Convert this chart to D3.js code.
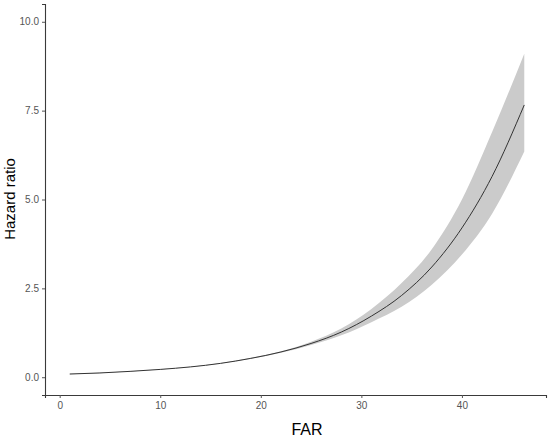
<!DOCTYPE html>
<meta charset="utf-8">
<script src="https://d3js.org/d3.v7.min.js"></script>
<style>
  body { margin: 0; background: #fff; }
</style>
<div id="chart"></div>
<script>
  // values
  var far   = [1, 4, 7, 10, 13, 16, 19, 22, 25, 28, 31, 34, 37, 40, 43, 46.2];
  var hr    = [0.09, 0.12, 0.165, 0.22, 0.29, 0.39, 0.53, 0.71, 0.95, 1.27, 1.72, 2.3, 3.1, 4.2, 5.65, 7.66];
  var lower = [0.085, 0.115, 0.16, 0.215, 0.285, 0.383, 0.52, 0.69, 0.91, 1.18, 1.55, 1.98, 2.6, 3.45, 4.6, 6.35];
  var upper = [0.095, 0.125, 0.17, 0.225, 0.295, 0.397, 0.545, 0.73, 1.0, 1.37, 1.92, 2.65, 3.6, 5.0, 6.9, 9.1];
  var xTicks = [0, 10, 20, 30, 40];
  var yTicks = [0, 2.5, 5, 7.5, 10];

  var W = 550, H = 439;
  var svg = d3.select("#chart").append("svg")
    .attr("width", W).attr("height", H)
    .style("font-family", "Arial, 'Liberation Sans', sans-serif");

  var x = d3.scaleLinear().domain([-1.46, 48.36]).range([45, 546]);
  var y = d3.scaleLinear().domain([-0.5, 10.5]).range([395, 4]);

  var rows = far.map(function (f, i) {
    return { far: f, hr: hr[i], lo: lower[i], hi: upper[i] };
  });

  // confidence band
  svg.append("path")
    .datum(rows)
    .attr("fill", "#cbcbcb")
    .attr("d", d3.area()
      .x(function (d) { return x(d.far); })
      .y0(function (d) { return y(d.lo); })
      .y1(function (d) { return y(d.hi); })
      .curve(d3.curveMonotoneX));

  // hazard ratio line
  svg.append("path")
    .datum(rows)
    .attr("fill", "none")
    .attr("stroke", "#333")
    .attr("stroke-width", 1)
    .attr("d", d3.line()
      .x(function (d) { return x(d.far); })
      .y(function (d) { return y(d.hr); })
      .curve(d3.curveMonotoneX));

  // axes
  var xAxis = svg.append("g")
    .attr("transform", "translate(0,395)")
    .call(d3.axisBottom(x).tickValues(xTicks).tickSize(3).tickPadding(4).tickFormat(d3.format("d")));
  var yAxis = svg.append("g")
    .attr("transform", "translate(45,0)")
    .call(d3.axisLeft(y).tickValues(yTicks).tickSize(3).tickPadding(3).tickFormat(d3.format(".1f")));

  [xAxis, yAxis].forEach(function (g) {
    g.select(".domain").attr("stroke", "#3a3a3a").attr("stroke-width", 1.1);
    g.selectAll(".tick line").attr("stroke", "#555");
    g.selectAll(".tick text").attr("fill", "#555").style("font-size", "10px");
  });

  // axis titles
  svg.append("text")
    .attr("x", 307).attr("y", 435)
    .attr("text-anchor", "middle")
    .style("font-size", "16px")
    .attr("fill", "#000")
    .text("FAR");

  svg.append("text")
    .attr("transform", "translate(15,199) rotate(-90)")
    .attr("text-anchor", "middle")
    .style("font-size", "15px")
    .attr("fill", "#000")
    .text("Hazard ratio");
</script>
